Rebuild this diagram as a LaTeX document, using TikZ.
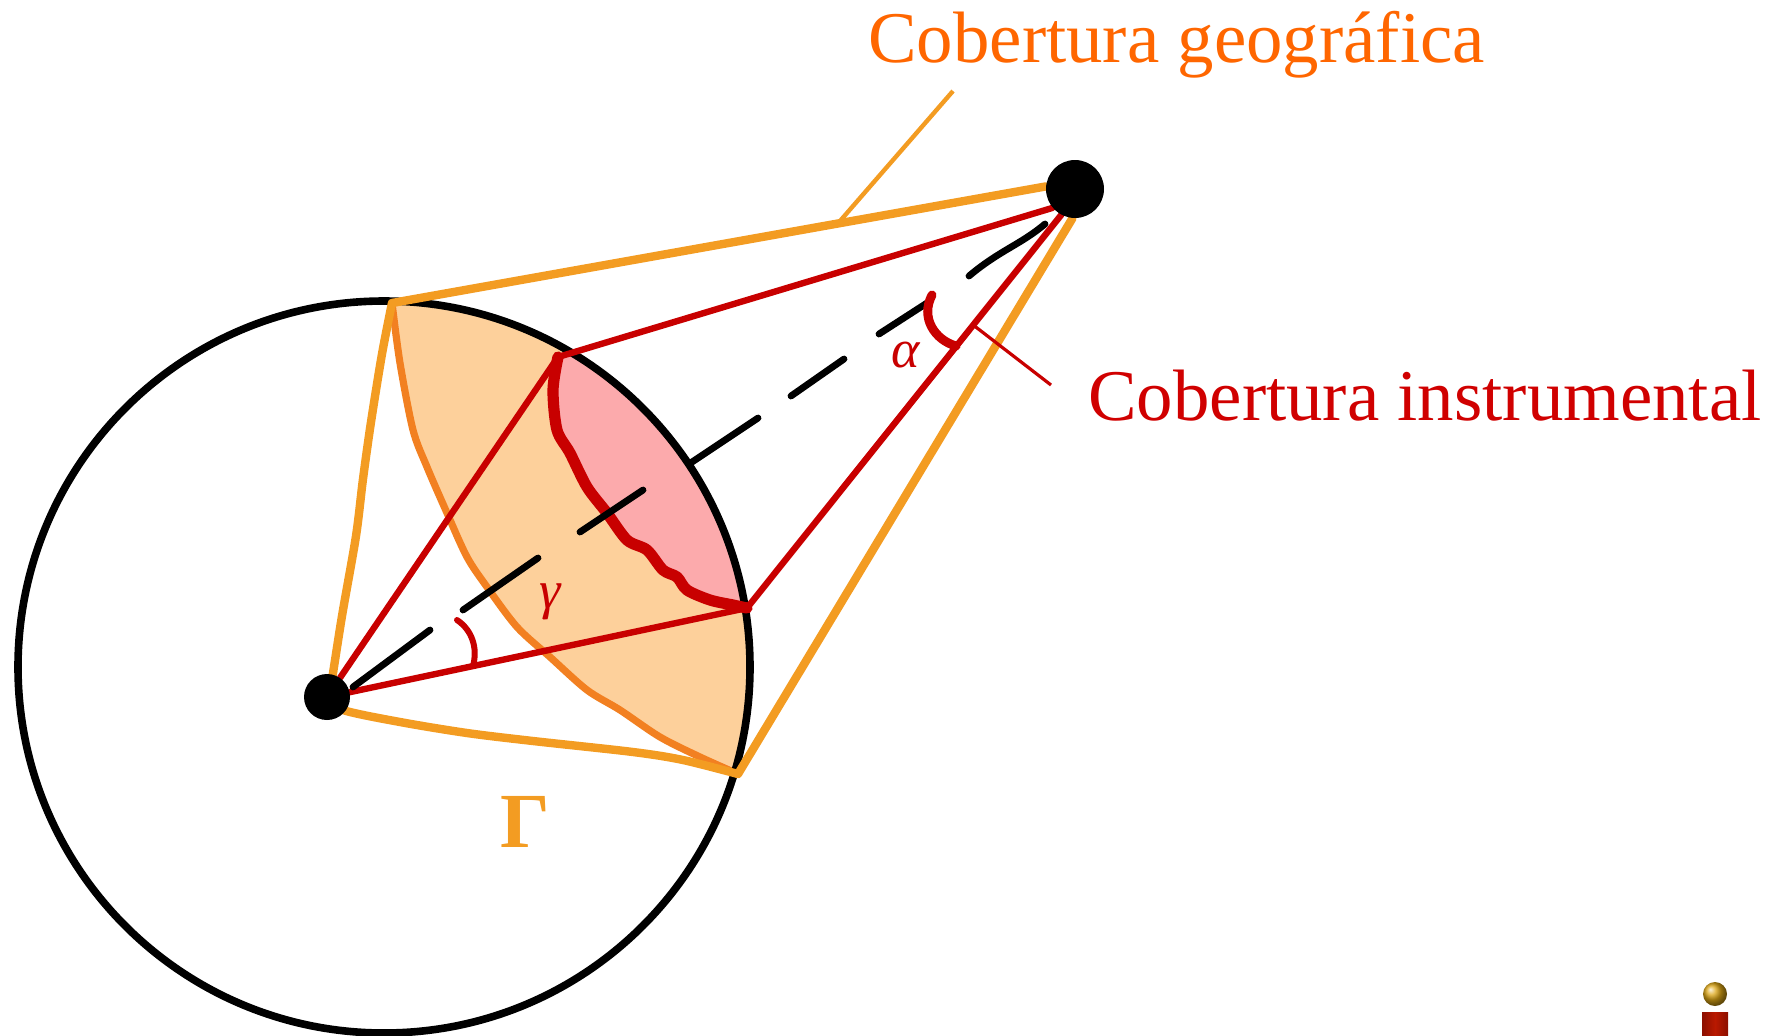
\documentclass[tikz,border=0pt]{standalone}
\usepackage{fontspec}
\setmainfont{Liberation Serif}
\usetikzlibrary{calc}
\definecolor{lineorange}{RGB}{243,156,34}
\definecolor{edgeorange}{RGB}{242,128,33}
\definecolor{peach}{RGB}{253,208,155}
\definecolor{rosefill}{RGB}{252,170,172}
\definecolor{deepred}{RGB}{200,0,0}
\definecolor{textorange}{RGB}{255,102,0}
\definecolor{textred}{RGB}{208,0,0}
\definecolor{logogold}{RGB}{220,165,20}
\definecolor{logored}{RGB}{185,25,0}
\definecolor{logodark}{RGB}{140,15,0}
\pgfdeclarelayer{back}
\pgfsetlayers{back,main}

\begin{document}
\begin{tikzpicture}[x=0.5pt,y=-0.5pt,
  orangeline/.style={draw=lineorange, line width=4.2pt, line cap=round, line join=round},
  redline/.style={draw=deepred, line width=3.2pt, line cap=round, line join=round},
  dashstroke/.style={draw=black, line width=3.4pt, line cap=round},
  dot/.style={circle, fill=black, inner sep=0pt},
  anglemark/.style={draw=deepred, line cap=round},
  greek/.style={text=deepred, inner sep=0pt, anchor=base, font=\fontsize{27pt}{30pt}\selectfont\itshape},
  title/.style={inner sep=0pt, anchor=base west, font=\fontsize{36.4pt}{40pt}\selectfont}]
\useasboundingbox (0,0) rectangle (1789,1035);

% satellite and Earth centre
\node[dot, minimum size=29pt] (S) at (1075,189) {};
\node[dot, minimum size=23pt] (E) at (327,697) {};

% circle centre, tangent points and instrument footprint corners
\coordinate (O) at (384,667);
\coordinate (T1) at (392,303);
\coordinate (T2) at (738,774);
\coordinate (R1) at (558,357);
\coordinate (R2) at (747,608);

\begin{pgfonlayer}{back}
  % geographic coverage cap
  \fill[peach] plot[domain=-88.7:16.8, samples=60] ({384+366*cos(\x)},{667+366*sin(\x)})
    -- plot[smooth] coordinates {(T2) (700,757) (660,737) (620,710) (587,690) (550,657) (517,627)
       (487,587) (467,557) (447,513) (427,467) (413,430) (400,363) (T1)} -- cycle;
  % instrument coverage patch
  \fill[rosefill] plot[domain=-60.3:-9.2, samples=40] ({384+366*cos(\x)},{667+366*sin(\x)})
    -- plot[smooth] coordinates {(R2) (733,605) (710,600) (687,590) (677,577) (663,570) (647,550)
       (627,540) (607,513) (587,487) (570,453) (557,430) (553,390) (R1)} -- cycle;
  % inner rim of the cap
  \draw[edgeorange, line width=3.6pt, line cap=round] plot[smooth] coordinates {(T1) (400,363) (413,430)
       (427,467) (447,513) (467,557) (487,587) (517,627) (550,657) (587,690) (620,710) (660,737)
       (700,757) (T2)};
  % Earth
  \draw[black, line width=3.8pt] (O) circle[radius=183pt];
  % inner rim of the instrument patch
  \draw[deepred, line width=5.6pt, line cap=round, line join=round] plot[smooth] coordinates {(R1)
       (553,390) (557,430) (570,453) (587,487) (607,513) (627,540) (647,550) (663,570) (677,577)
       (687,590) (710,600) (733,605) (R2)};
  % geographic coverage cone
  \draw[orangeline] plot[smooth] coordinates {(T1) (382,354) (371,422) (363,479) (356,536)
       (342,616) (331,685) (E)};
  \draw[orangeline] plot[smooth] coordinates {(E) (343,710) (400,722) (467,733) (533,741)
       (633,752) (683,760) (T2)};
  \draw[orangeline] (T1) -- (S.175);
  \draw[orangeline] (T2) -- (S.-95);
  % instrument cone
  \draw[redline] (E) -- (R1) -- (S.-140);
  \draw[redline] (E) -- (R2) -- (S.-118);
  % axis from Earth centre to satellite
  \draw[dashstroke] (353,687) -- (430,630);
  \draw[dashstroke] (463,610) -- (538,558);
  \draw[dashstroke] (580,532) -- (643,490);
  \draw[dashstroke] (692,462) -- (758,418);
  \draw[dashstroke] (791,396) -- (844,359);
  \draw[dashstroke] (879,334) -- (927,303);
  \draw[dashstroke] (969,276) .. controls (1000,250) and (1020,245) .. (1045,224);
  % angle marks
  \draw[anglemark, line width=3pt] (457,620) .. controls (472,630) and (478,648) .. (473,666);
  \draw[anglemark, line width=4.5pt] (932,295) .. controls (920,318) and (935,340) .. (956,346);
  % leader lines
  \coordinate (geotag) at (953,91);
  \coordinate (geofoot) at ($(T1)!0.682!(S.175)$);
  \draw[lineorange, line width=2.2pt] (geotag) -- (geofoot);
  \coordinate (insttag) at (1051,385);
  \coordinate (instfoot) at ($(R2)!0.72!(S.-118)$);
  \draw[deepred, line width=1.6pt] (insttag) -- (instfoot);
\end{pgfonlayer}

% labels
\node[title, text=textorange] (geo) at (868,62) {Cobertura geográfica};
\node[title, text=textred] (inst) at (1088,420) {Cobertura instrumental};
\node[greek] (alpha) at (906,367) {α};
\node[greek] (gamma) at (550,608) {γ};
\node[inner sep=0pt, anchor=base, text=lineorange, font=\fontsize{39pt}{42pt}\selectfont\bfseries] (Gamma) at (525,847) {Γ};

% emblem in the corner
\shade[ball color=logogold] (1715,994) circle[radius=6pt];
\shade[left color=logodark, right color=logodark, middle color=logored] (1702,1012) rectangle (1728,1035);
\end{tikzpicture}
\end{document}
